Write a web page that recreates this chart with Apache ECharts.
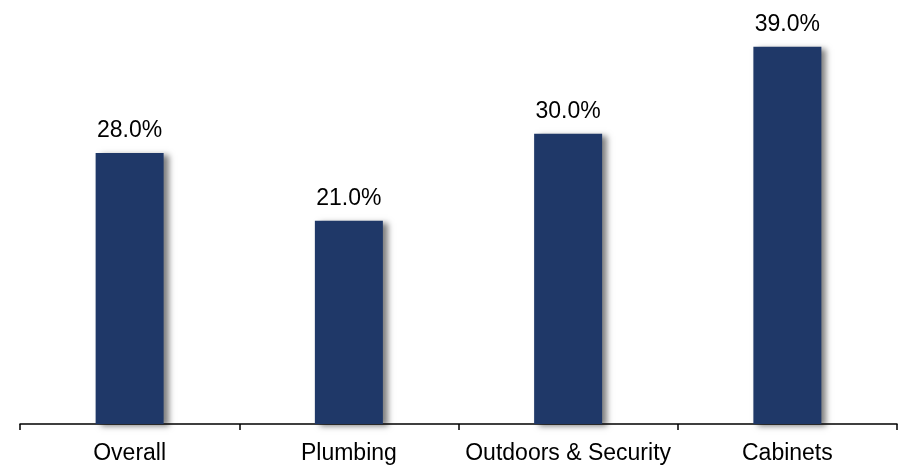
<!DOCTYPE html>
<html>
<head>
<meta charset="utf-8">
<script src="https://cdn.jsdelivr.net/npm/echarts@6/dist/echarts.min.js"></script>
<style>
  html, body { margin: 0; padding: 0; background: #fff; }
  #chart { width: 901px; height: 465px; }
</style>
</head>
<body>
<div id="chart"></div>
<script>
// Share by category (percent)
const categories = ['Overall', 'Plumbing', 'Outdoors & Security', 'Cabinets'];
const shareValues = [28.0, 21.0, 30.0, 39.0];

const chart = echarts.init(document.getElementById('chart'), null, { renderer: 'canvas' });

chart.setOption({
  animation: false,
  backgroundColor: '#ffffff',
  grid: { left: 20, right: 4, top: 37, bottom: 41, containLabel: false },
  xAxis: {
    type: 'category',
    data: categories,
    axisLine: { show: true, lineStyle: { color: '#000', width: 1.5 } },
    axisTick: { show: true, length: 6, alignWithLabel: false, lineStyle: { color: '#000', width: 1.5 } },
    axisLabel: {
      color: '#000',
      fontFamily: 'Liberation Sans, Arial, sans-serif',
      fontSize: 23,
      margin: 18,
      interval: 0
    }
  },
  yAxis: {
    type: 'value',
    min: 0,
    max: 40,
    show: false,
    splitLine: { show: false }
  },
  series: [{
    type: 'bar',
    data: shareValues,
    barWidth: 68,
    itemStyle: {
      color: '#1f3868',
      shadowColor: 'rgba(0,0,0,0.5)',
      shadowBlur: 6,
      shadowOffsetX: 5,
      shadowOffsetY: 2
    },
    label: {
      show: true,
      position: 'top',
      distance: 11,
      color: '#000',
      fontFamily: 'Liberation Sans, Arial, sans-serif',
      fontSize: 23,
      formatter: p => p.value.toFixed(1) + '%'
    }
  }]
});
</script>
</body>
</html>
